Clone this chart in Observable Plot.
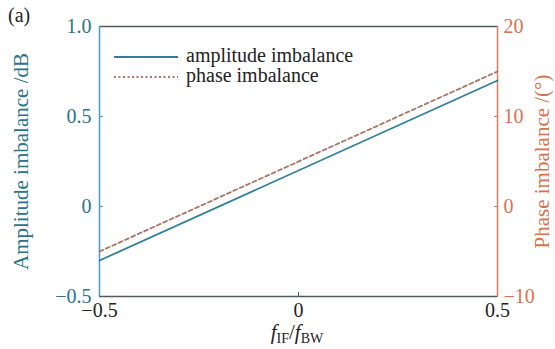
<!DOCTYPE html>
<html>
<head>
<meta charset="utf-8">
<script src="https://cdn.jsdelivr.net/npm/d3@7"></script>
<script src="https://cdn.jsdelivr.net/npm/@observablehq/plot@0.6"></script>
<style>
  html, body { margin: 0; padding: 0; background: #fff; font-family: serif; }
</style>
</head>
<body>
<div id="chart"></div>
<script>
// ---- data ----
const fRatio = [-0.5, 0.5];          // f_IF / f_BW
const amplitude = [-0.3, 0.7];       // dB
const phase = [-5, 15];              // degrees
const xTicks = [-0.5, 0, 0.5];
const ampTicks = [-0.5, 0, 0.5, 1.0];
const phaseTicks = [-10, 0, 10, 20];
const ampDomain = [-0.5, 1.0];
const phaseDomain = [-10, 20];
const seriesNames = ["amplitude imbalance", "phase imbalance"];

// ---- styles ----
const teal = "#2b7385";
const tealAxis = "#4a9cc6";
const tealLine = "#2f7f9b";
const orange = "#d8714e";
const orangeAxis = "#e07a58";
const dashCol = "#a8766a";
const gray = "#4d5b62";
const font = "serif";

// map phase (deg) onto amplitude axis units
const p2a = p => ampDomain[0] + (p - phaseDomain[0]) / (phaseDomain[1] - phaseDomain[0]) * (ampDomain[1] - ampDomain[0]);
const fmt = d => d === 0 ? "0" : d.toFixed(1).replace("-", "\u2212");
const fmtInt = d => String(d).replace("-", "\u2212");

const ampData = fRatio.map((x, i) => ({x, y: amplitude[i]}));
const phaseData = fRatio.map((x, i) => ({x, y: p2a(phase[i])}));

const chart = Plot.plot({
  width: 555,
  height: 349,
  marginLeft: 99,
  marginRight: 58,
  marginTop: 26,
  marginBottom: 53,
  style: {fontFamily: font, fontSize: "20px"},
  x: {domain: fRatio, label: null},
  y: {domain: ampDomain, label: null},
  marks: [
    Plot.axisX(xTicks, {tickSize: -4, tickPadding: 10, tickFormat: fmt, stroke: gray, fill: "#222", label: null}),
    Plot.axisY(ampTicks, {anchor: "left", tickSize: -4, tickPadding: 12, tickFormat: fmt, stroke: tealAxis, fill: teal, label: null}),
    Plot.axisY(phaseTicks.map(p2a), {anchor: "right", tickSize: -4, tickPadding: 10, tickFormat: (d, i) => fmtInt(phaseTicks[i]), stroke: orangeAxis, fill: orange, label: null}),
    Plot.ruleY([ampDomain[1]], {stroke: gray, strokeWidth: 1.5}),
    Plot.ruleY([ampDomain[0]], {stroke: gray, strokeWidth: 1.5}),
    Plot.ruleX([fRatio[0]], {stroke: tealAxis, strokeWidth: 1.5}),
    Plot.ruleX([fRatio[1]], {stroke: orangeAxis, strokeWidth: 1.5}),
    Plot.line(ampData, {x: "x", y: "y", stroke: tealLine, strokeWidth: 1.8}),
    Plot.line(phaseData, {x: "x", y: "y", stroke: dashCol, strokeWidth: 1.8, strokeDasharray: "4,3"}),
    Plot.text(["Amplitude imbalance /dB"], {frameAnchor: "left", textAnchor: "middle", dx: -78, rotate: -90, text: d => d, fill: teal, fontSize: 21}),
    Plot.text(["Phase imbalance /(\u00b0)"], {frameAnchor: "right", textAnchor: "middle", dx: 45, rotate: -90, text: d => d, fill: orange, fontSize: 21})
  ]
});

const svg = d3.select(chart);
// panel label
svg.append("text").attr("x", 8).attr("y", 22).attr("text-anchor", "start").attr("font-family", font)
  .attr("font-size", 20).attr("fill", "#222").text("(a)");
// x label with subscripts
const xl = svg.append("text").attr("x", 297).attr("y", 339).attr("text-anchor", "middle")
  .attr("font-family", font).attr("font-size", 21).attr("fill", "#222");
xl.append("tspan").attr("font-style", "italic").text("f");
xl.append("tspan").attr("font-size", 14).attr("dy", 4).text("IF");
xl.append("tspan").attr("dy", -4).text("/");
xl.append("tspan").attr("font-style", "italic").text("f");
xl.append("tspan").attr("font-size", 14).attr("dy", 4).text("BW");
// legend
const leg = svg.append("g").attr("font-family", font).attr("font-size", 20).attr("fill", "#222").attr("text-anchor", "start");
const legStyles = [{stroke: tealLine, dash: null, y: 57}, {stroke: dashCol, dash: "2,2.5", y: 77}];
seriesNames.forEach((name, i) => {
  const s = legStyles[i];
  leg.append("line").attr("x1", 114).attr("x2", 178).attr("y1", s.y).attr("y2", s.y)
    .attr("stroke", s.stroke).attr("stroke-width", 1.8).attr("stroke-dasharray", s.dash);
  leg.append("text").attr("x", 186).attr("y", s.y + 5).text(name);
});

document.getElementById("chart").appendChild(chart);
</script>
</body>
</html>
